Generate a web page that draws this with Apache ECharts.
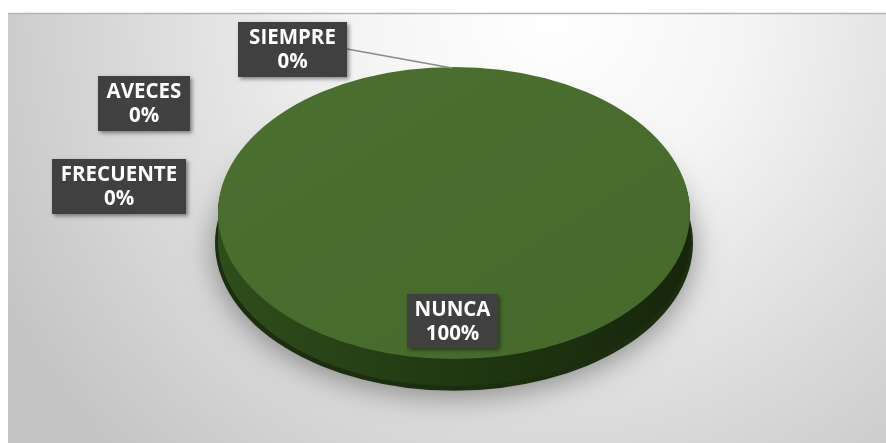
<!DOCTYPE html>
<html>
<head>
<meta charset="utf-8">
<script src="https://cdn.jsdelivr.net/npm/echarts@6/dist/echarts.min.js"></script>
<style>
html,body{margin:0;padding:0;background:#fff;}
#chart{width:886px;height:443px;}
</style>
</head>
<body>
<div id="chart"></div>
<script>
// ---- data ----
const categories = ['SIEMPRE', 'AVECES', 'FRECUENTE', 'NUNCA'];
const values = [0, 0, 0, 100];

// ---- styles ----
const topColors = ['#4472c4', '#ed7d31', '#a5a5a5', '#456a2b'];
const sideColors = [['#2c4f86', '#1d355a'], ['#a5561f', '#6e3914'], ['#727272', '#4d4d4d'], ['#2f4e1b', '#17260b']];
const labelBoxes = [[238, 22, 109, 55], [98, 76, 92, 55], [52, 159, 134, 55], [407, 294, 91, 54]];
const leaderLines = { 0: [[347, 49], [452, 68]] };
const PIE = { cx: 454, cy: 213, rx: 236, ry: 146, depth: 27 };

const chart = echarts.init(document.getElementById('chart'), null, { renderer: 'canvas' });

function renderItem(params, api) {
  const i = params.dataIndex;
  const total = values.reduce((a, b) => a + b, 0);
  let before = 0;
  for (let k = 0; k < i; k++) before += values[k];
  const v = api.value(0);
  const a0 = -Math.PI / 2 + 2 * Math.PI * before / total;
  const a1 = -Math.PI / 2 + 2 * Math.PI * (before + v) / total;
  const sy = PIE.ry / PIE.rx;
  const children = [];
  if (v > 0) {
    // shadow under the pie
    children.push({
      type: 'sector', x: PIE.cx, y: PIE.cy + PIE.depth + 3, scaleY: sy,
      shape: { cx: 0, cy: 0, r: PIE.rx + 3, startAngle: a0, endAngle: a1 },
      style: { fill: '#1c2e10', shadowBlur: 30, shadowColor: 'rgba(0,0,0,0.4)', shadowOffsetY: 5 },
      z2: 0
    });
    // extruded side
    for (let d = PIE.depth; d >= 1; d--) {
      children.push({
        type: 'sector', x: PIE.cx, y: PIE.cy + d, scaleY: sy,
        shape: { cx: 0, cy: 0, r: PIE.rx, startAngle: a0, endAngle: a1 },
        style: {
          fill: new echarts.graphic.LinearGradient(0, 0, 1, 0, [
            { offset: 0, color: sideColors[i][0] },
            { offset: 0.5, color: '#213812' },
            { offset: 1, color: sideColors[i][1] }
          ])
        },
        z2: 1
      });
    }
    // top face
    children.push({
      type: 'sector', x: PIE.cx, y: PIE.cy, scaleY: sy,
      shape: { cx: 0, cy: 0, r: PIE.rx, startAngle: a0, endAngle: a1 },
      style: {
        fill: new echarts.graphic.LinearGradient(0, 0, 1, 1, [
          { offset: 0, color: '#4a6f2f' },
          { offset: 1, color: topColors[i] }
        ])
      },
      z2: 5
    });
  }
  // leader line
  if (leaderLines[i]) {
    const p = leaderLines[i];
    children.push({
      type: 'line',
      shape: { x1: p[0][0], y1: p[0][1], x2: p[1][0], y2: p[1][1] },
      style: { stroke: '#8a8a8a', lineWidth: 1.5 },
      z2: 8
    });
  }
  // label box
  const b = labelBoxes[i];
  const pct = Math.round(v / total * 100);
  children.push({
    type: 'rect',
    shape: { x: b[0], y: b[1], width: b[2], height: b[3] },
    style: { fill: '#404040', shadowBlur: 4, shadowOffsetX: 2, shadowOffsetY: 2, shadowColor: 'rgba(0,0,0,0.45)' },
    z2: 20
  });
  children.push({
    type: 'text',
    x: b[0] + b[2] / 2, y: b[1] + b[3] / 2 + 1,
    style: {
      text: categories[i] + '\n' + pct + '%',
      fill: '#ffffff',
      font: 'bold 20.5px "Open Sans"',
      align: 'center', verticalAlign: 'middle', lineHeight: 24
    },
    z2: 21
  });
  return { type: 'group', children };
}

const option = {
  animation: false,
  graphic: [
    {
      type: 'rect', left: 8, top: 13, z: -10,
      shape: { x: 0, y: 0, width: 878, height: 430 },
      style: {
        fill: new echarts.graphic.RadialGradient(0.62, 0.0, 1.45, [
          { offset: 0, color: '#ffffff' },
          { offset: 0.3, color: '#f5f5f5' },
          { offset: 0.65, color: '#dcdcdc' },
          { offset: 1, color: '#c4c4c4' }
        ])
      }
    },
    {
      type: 'line', z: -9,
      shape: { x1: 8, y1: 13.5, x2: 886, y2: 13.5 },
      style: { stroke: '#b4b4b4', lineWidth: 1.5 }
    }
  ],
  series: [{
    type: 'custom',
    coordinateSystem: 'none',
    renderItem: renderItem,
    data: values.map((v, i) => [v, i])
  }]
};
chart.setOption(option);
</script>
</body>
</html>
